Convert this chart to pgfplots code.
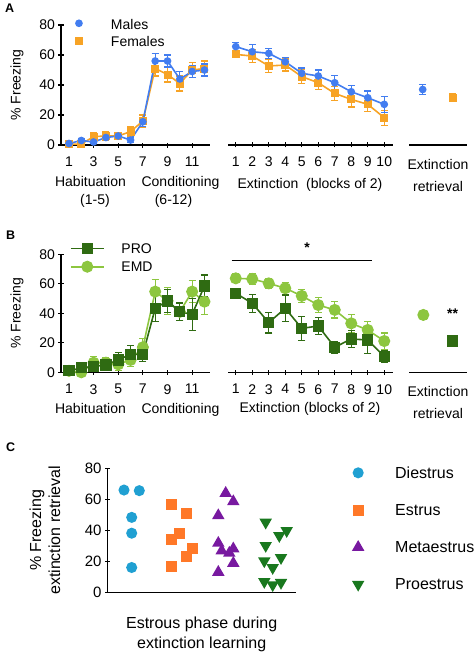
\documentclass[border=0pt]{standalone}
\usepackage{fontspec}
\setmainfont{Liberation Sans}
\usepackage{pgfplots}
\pgfplotsset{compat=1.18}
\usepackage{pgfplotstable}

\definecolor{males}{RGB}{66,125,240}
\definecolor{females}{RGB}{247,163,37}
\definecolor{pro}{RGB}{47,107,18}
\definecolor{emd}{RGB}{141,198,63}
\definecolor{diestrus}{RGB}{32,160,210}
\definecolor{estrus}{RGB}{255,120,40}
\definecolor{metaestrus}{RGB}{120,25,160}
\definecolor{proestrus}{RGB}{25,120,30}

\newcommand{\fA}{\fontsize{14}{16}\selectfont}
\newcommand{\fC}{\fontsize{16}{19}\selectfont}

% Panel A
\pgfplotstableread{
x y e
1 1 1
2 3 1
3 2 1
4 5 1.5
5 6 1.5
6 3.3 1.5
7 15.5 3
8 56 5
9 56 4
10 44 5
11 49 4
12 50 4
}\AmHab
\pgfplotstableread{
x y e
1 0.5 1
2 0.6 1
3 5.6 3
4 6 3
5 6 2.5
6 9 3
7 16 4
8 51 5
9 47 5
10 41 5
11 50 5
12 51 5
}\AfHab
\pgfplotstableread{
x y e
1 65.6 2.5
2 62.2 5
3 61.1 3.5
4 55.5 3
5 47.8 3.5
6 46 4
7 41.5 5
8 35.5 4
9 31.5 4.5
10 27.1 5.5
}\AmExt
\pgfplotstableread{
x y e
1 60.4 2
2 59.3 4.5
3 52.7 4.5
4 53.3 4
5 45.6 4.5
6 41.5 4.5
7 34.4 4.5
8 30.4 5
9 27.1 5
10 18.2 5
}\AfExt
% Panel B
\pgfplotstableread{
x y e
1 1 1
2 3 1
3 4 2
4 5 3
5 8.4 5
6 12.2 6
7 12.2 5
8 43.4 9
9 48.4 8
10 41 6
11 39.3 11
12 58.5 7.5
}\BpHab
\pgfplotstableread{
x y e
1 1 1
2 0 1
3 6.5 4
4 6.5 3.5
5 5.4 4
6 8.4 4.5
7 17 6
8 54.7 8
9 48.4 9
10 41 6
11 54.7 7.5
12 47.9 8.5
}\BeHab
\pgfplotstableread{
x y e
1 63.7 3
2 63.3 3.5
3 60.3 3.5
4 57 4
5 51.8 4.5
6 45.6 5
7 42.3 5.5
8 33.2 6
9 28.7 6
10 21.2 5.5
}\BeExt
\pgfplotstableread{
x y e
1 53.6 2
2 46.8 6
3 33.7 7
4 43.4 9
5 29.8 8
6 31.4 6
7 17 4
8 22.6 6
9 21.9 9
10 10.6 4
}\BpExt

\pgfplotsset{
  base/.style={scale only axis, anchor=south west, clip=false,
    ymin=0, ymax=80,
    axis line style={line width=1.1pt,-},
    tick style={line width=1.1pt, black},
    major tick length=5pt, tick align=outside,
    /pgf/number format/assume math mode=true,
    ticklabel style={font=\fA},
    xticklabel style={yshift=-6pt},
    label style={font=\fA},
    every axis plot/.append style={line width=1.6pt},
    error bars/error bar style={line width=1.2pt},
    error bars/error mark options={rotate=90, mark size=3.5pt, line width=1.2pt},
  },
  noarrow/.style={x axis line style={-}, y axis line style={-},
    every outer x axis line/.append style={-},
    every outer y axis line/.append style={-},
    every inner x axis line/.append style={-},
    every inner y axis line/.append style={-}},
  ebar/.style={error bars/y dir=both, error bars/y explicit},
}

\begin{document}
\begin{tikzpicture}

% ================= Panel A =================
\node[anchor=base west, font=\bfseries\fontsize{12.5}{13}\selectfont] at (1.5pt,-12.7pt) {A};

\begin{axis}[base, at={(61pt,-145pt)}, width=149pt, height=120pt,
  xmin=0.35, xmax=12.45,
  axis x line=bottom, axis y line=left, noarrow,
  xtick={1,3,5,7,9,11}, ytick={0,20,40,60,80},
  ylabel={\% Freezing},
  ylabel style={at={(axis description cs:-0.228,0.5)}, anchor=south},
  legend cell align=left,
  legend style={draw=none, fill=none, inner sep=0pt, outer sep=0pt,
    row sep=3.5pt, column sep=0pt, font=\fA,
    nodes={inner sep=0pt, text height=11pt, text depth=3pt},
    at={(0.087,1.056)}, anchor=north west},
  legend image code/.code={\path[draw=none, fill=none] (-5pt,-5pt) rectangle (32pt,5pt);
     \draw[#1] plot coordinates {(0pt,2pt)};},
]
\addlegendimage{males, mark=*, mark size=3pt}
\addlegendentry{Males}
\addlegendimage{females, mark=square*, mark size=3.2pt}
\addlegendentry{Females}
\addplot[females, mark=square*, mark size=3.2pt, ebar, forget plot] table[x=x,y=y,y error=e]{\AfHab};
\addplot[males, mark=*, mark size=3pt, ebar, forget plot] table[x=x,y=y,y error=e]{\AmHab};
\end{axis}

\begin{axis}[base, at={(228pt,-145pt)}, width=165pt, height=120pt,
  xmin=0.53, xmax=10.53,
  axis x line=bottom, axis y line=none, noarrow,
  xtick={1,2,...,10}, ytick=\empty,
]
\addplot[females, mark=square*, mark size=3.2pt, ebar] table[x=x,y=y,y error=e]{\AfExt};
\addplot[males, mark=*, mark size=3pt, ebar] table[x=x,y=y,y error=e]{\AmExt};
\end{axis}

\begin{axis}[base, at={(409pt,-145pt)}, width=58pt, height=120pt,
  xmin=0, xmax=1,
  axis x line=bottom, axis y line=none, noarrow,
  xtick=\empty, ytick=\empty,
]
\addplot[males, mark=*, mark size=3pt, only marks, ebar] coordinates {(0.236,37) +- (0,3.5)};
\addplot[females, mark=square*, mark size=3.2pt, only marks, ebar] coordinates {(0.753,31.5) +- (0,2.5)};
\end{axis}

\node[anchor=base, font=\fA] at (90.5pt,-186.7pt) {Habituation};
\node[anchor=base, font=\fA] at (95pt,-204pt) {(1-5)};
\node[anchor=base, font=\fA] at (180.5pt,-186.7pt) {Conditioning};
\node[anchor=base, font=\fA] at (173.5pt,-204pt) {(6-12)};
\node[anchor=base, font=\fA] at (310pt,-188pt) {Extinction\ \ (blocks of 2)};
\node[anchor=base, font=\fA] at (438pt,-170pt) {Extinction};
\node[anchor=base, font=\fA] at (438pt,-191.7pt) {retrieval};

% ================= Panel B =================
\node[anchor=base west, font=\bfseries\fontsize{12.5}{13}\selectfont] at (2.5pt,-239.3pt) {B};

\begin{axis}[base, at={(61pt,-372.3pt)}, width=149pt, height=118pt,
  xmin=0.35, xmax=12.45,
  axis x line=bottom, axis y line=left, noarrow,
  xtick={1,3,5,7,9,11}, ytick={0,20,40,60,80},
  ylabel={\% Freezing},
  ylabel style={at={(axis description cs:-0.228,0.5)}, anchor=south},
  legend cell align=left,
  legend style={draw=none, fill=none, inner sep=0pt, outer sep=0pt,
    row sep=4.4pt, column sep=0pt, font=\fA,
    nodes={inner sep=0pt, text height=11pt, text depth=3pt},
    at={(0.0604,1.1017)}, anchor=north west},
  legend image code/.code={\path[draw=none, fill=none] (0pt,-5pt) rectangle (50.7pt,5pt);
     \draw[mark repeat=2, mark phase=2, #1] plot coordinates {(0pt,1pt) (16.5pt,1pt) (33pt,1pt)};},
]
\addlegendimage{pro, mark=square*, mark size=4.8pt}
\addlegendentry{PRO}
\addlegendimage{emd, mark=*, mark size=5.2pt}
\addlegendentry{EMD}
\addplot[emd, mark=*, mark size=5.2pt, ebar, forget plot] table[x=x,y=y,y error=e]{\BeHab};
\addplot[pro, mark=square*, mark size=4.8pt, ebar, forget plot] table[x=x,y=y,y error=e]{\BpHab};
\end{axis}

\begin{axis}[base, at={(228pt,-372.3pt)}, width=165pt, height=118pt,
  xmin=0.53, xmax=10.53,
  axis x line=bottom, axis y line=none, noarrow,
  xtick={1,2,...,10}, ytick=\empty,
]
\addplot[emd, mark=*, mark size=5.2pt, ebar] table[x=x,y=y,y error=e]{\BeExt};
\addplot[pro, mark=square*, mark size=4.8pt, ebar] table[x=x,y=y,y error=e]{\BpExt};
\draw[line width=1.2pt] (axis cs:0.75,75.7) -- (axis cs:9.24,75.7);
\node[font=\bfseries\fontsize{14}{14}\selectfont] at (axis cs:5.32,84.5) {*};
\end{axis}

\begin{axis}[base, at={(409pt,-372.3pt)}, width=58pt, height=118pt,
  xmin=0, xmax=1,
  axis x line=bottom, axis y line=none, noarrow,
  xtick=\empty, ytick=\empty,
]
\addplot[emd, mark=*, mark size=5.2pt, only marks, ebar] coordinates {(0.247,38.9) +- (0,3)};
\addplot[pro, mark=square*, mark size=4.8pt, only marks, ebar] coordinates {(0.753,21.2) +- (0,3.5)};
\node[font=\bfseries\fontsize{14}{14}\selectfont] at (axis cs:0.753,39.5) {**};
\end{axis}

\node[anchor=base, font=\fA] at (90.5pt,-413.3pt) {Habituation};
\node[anchor=base, font=\fA] at (180.5pt,-413.3pt) {Conditioning};
\node[anchor=base, font=\fA] at (310pt,-412.7pt) {Extinction (blocks of 2)};
\node[anchor=base, font=\fA] at (438pt,-396.7pt) {Extinction};
\node[anchor=base, font=\fA] at (438pt,-418pt) {retrieval};

% ================= Panel C =================
\node[anchor=base west, font=\bfseries\fontsize{12.5}{13}\selectfont] at (2.5pt,-451.7pt) {C};

\begin{axis}[base, at={(107.5pt,-592.5pt)}, width=188.5pt, height=124.2pt,
  xmin=107.5, xmax=296,
  axis x line=bottom, axis y line=left, noarrow,
  xtick=\empty, ytick={0,20,40,60,80},
  ticklabel style={font=\fontsize{15}{15}\selectfont},
  ylabel={\% Freezing\\extinction retrieval},
  ylabel style={font=\fC, align=center, at={(axis description cs:-0.232,0.5)}, anchor=south},
  legend cell align=left,
  legend style={draw=none, fill=none, inner sep=0pt, outer sep=0pt,
    row sep=21.2pt, column sep=0pt, font=\fC,
    nodes={inner sep=0pt, text height=12.5pt, text depth=3.5pt},
    at={(1.298,1.020)}, anchor=north west},
  legend image code/.code={\path[draw=none, fill=none] (-6pt,-6pt) rectangle (37pt,6pt);
     \draw[#1] plot coordinates {(0pt,1pt)};},
]
\addplot[only marks, mark=*, mark size=4.7pt, diestrus, draw=none] coordinates {
(124,66) (139.3,65.6) (131.7,48.4) (131.7,38.2) (131.7,16.1)};
\addlegendentry{Diestrus}
\addplot[only marks, mark=square*, mark size=4.7pt, estrus, draw=none] coordinates {
(171.7,57) (186,50.6) (179,38.2) (171.7,34.3) (192.7,28.1) (186,23.2) (171.7,16.7)};
\addlegendentry{Estrus}
\addplot[only marks, mark=triangle*, mark size=5.6pt, metaestrus, draw=none] coordinates {
(225.7,64) (233.3,58.6) (218.3,49.6) (218.3,31.8) (221.7,26.9) (233.3,28.2) (229.3,25.4) (233.3,18.9) (218.3,13.1)};
\addlegendentry{Metaestrus}
\addplot[only marks, mark=triangle*, mark options={rotate=180}, mark size=5.6pt, proestrus, draw=none] coordinates {
(265.7,45.2) (286.7,39.8) (279.3,36.6) (265.7,30.2) (281,22.4) (264.3,20.3) (272.7,16) (264.3,7) (272.7,4.9) (281,6.4)};
\addlegendentry{Proestrus}
\end{axis}

\node[anchor=base, font=\fC] at (201.7pt,-628pt) {Estrous phase during};
\node[anchor=base, font=\fC] at (201.7pt,-648pt) {extinction learning};

\pgfresetboundingbox
\path[use as bounding box] (0,0) rectangle (475pt,-655pt);
\end{tikzpicture}
\end{document}
